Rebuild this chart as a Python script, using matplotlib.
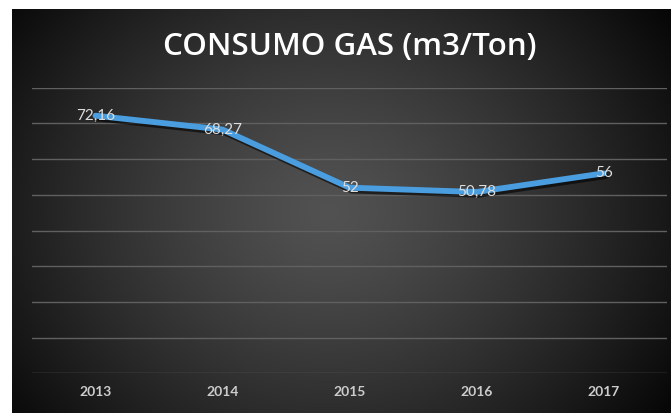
import numpy as np
import matplotlib
matplotlib.use("Agg")
import matplotlib.pyplot as plt
import matplotlib.patheffects as pe

years = ["2013", "2014", "2015", "2016", "2017"]
values = [72.16, 68.27, 52.0, 50.78, 56.0]
labels = ["72,16", "68,27", "52", "50,78", "56"]
title = "CONSUMO GAS (m3/Ton)"

W, H = 671, 413
fig = plt.figure(figsize=(W / 100, H / 100), dpi=100)
fig.patch.set_facecolor("white")

# background radial gradient panel
bx0, by1 = 12 / W, (H - 9) / H
bg = fig.add_axes([bx0, 0, 1 - bx0, by1])
ny, nx = 300, 500
yy, xx = np.mgrid[0:ny, 0:nx]
cx, cy = nx * 0.48, ny * 0.5
r = np.sqrt(((xx - cx) / (nx * 0.62)) ** 2 + ((yy - cy) / (ny * 0.85)) ** 2)
r = np.clip(r, 0, 1)
c0, c1 = 0.32, 0.03
g = c0 + (c1 - c0) * r ** 1.3
img = np.dstack([g, g, g])
bg.imshow(img, aspect="auto", extent=[0, 1, 0, 1], interpolation="bilinear")
bg.set_axis_off()

ax = fig.add_axes([32 / W, (H - 373.3) / H, (667 - 32) / W, (373.3 - 87.7) / H])
ax.set_facecolor("none")
x = np.arange(len(years))
ax.set_xlim(-0.5, len(years) - 0.5)
ax.set_ylim(0, 80)
ax.set_yticks(np.arange(0, 81, 10))
ax.yaxis.grid(True, color="#606060", linewidth=1.0)
ax.set_axisbelow(True)
ax.tick_params(axis="y", left=False, labelleft=False)
ax.tick_params(axis="x", length=0, pad=9, labelsize=10, labelcolor="#cccccc")
ax.set_xticks(x)
ax.set_xticklabels(years, fontfamily="Lato", fontweight="bold")
for s in ax.spines.values():
    s.set_visible(False)

ax.plot(x, values, color="#4a9ee0", linewidth=4.2, solid_joinstyle="round",
        solid_capstyle="round",
        path_effects=[pe.SimpleLineShadow(offset=(1.5, -2), shadow_color="black", alpha=0.6),
                      pe.Normal()], zorder=3)

for xi, v, lab in zip(x, values, labels):
    ax.text(xi, v, lab, ha="center", va="center", fontsize=11, color="#dddddd",
            fontfamily="Lato", zorder=4)

fig.text(350 / W, (H - 47) / H, title, ha="center", va="center", fontsize=22.5,
         color="white", fontfamily="Open Sans", fontweight="semibold")

fig.savefig("out.png", dpi=100, facecolor=fig.get_facecolor())
